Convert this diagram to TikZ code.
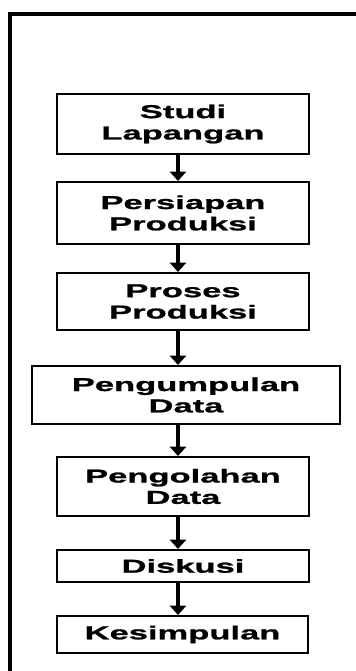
\documentclass[tikz,border=0pt]{standalone}
\usepackage{fontspec}
\setmainfont{Liberation Sans}[FakeStretch=1.85, BoldFeatures={FakeBold=1.2}]
\usetikzlibrary{arrows.meta}
\begin{document}
\begin{tikzpicture}[x=0.75pt,y=-0.75pt,
	tahap/.style={draw, line width=1.5pt, minimum width=189pt, align=center, inner sep=0pt,
		font=\fontsize{14}{16}\selectfont\bfseries},
	panah/.style={-{Triangle[width=12pt,length=7pt]}, line width=2.4pt}]
	\useasboundingbox (0,0) rectangle (356,671);
	\clip (0,0) rectangle (356,671);
	% frame
	\draw[line width=3pt] (10,690) -- (10,14) -- (380,14);
	% tahapan
	\node[tahap, minimum height=45pt] (studi) at (183,124) {Studi\\Lapangan};
	\node[tahap, minimum height=46.5pt] (persiapan) at (183,213) {Persiapan\\Produksi};
	\node[tahap, minimum height=42.75pt] (proses) at (183,301.5) {Proses\\Produksi};
	\node[tahap, minimum height=43.5pt, minimum width=231pt] (kumpul) at (186,395) {Pengumpulan\\Data};
	\node[tahap, minimum height=44.25pt] (olah) at (183,486.5) {Pengolahan\\Data};
	\node[tahap, minimum height=24pt] (diskusi) at (183,566) {Diskusi};
	\node[tahap, minimum height=27.75pt, minimum width=188pt] (simpul) at (182.5,634.5) {Kesimpulan};
	% panah
	\coordinate (jalur) at (178,0);
	\draw[panah] (studi.south -| jalur) -- (persiapan.north -| jalur);
	\draw[panah] (persiapan.south -| jalur) -- (proses.north -| jalur);
	\draw[panah] (proses.south -| jalur) -- (kumpul.north -| jalur);
	\draw[panah] (kumpul.south -| jalur) -- (olah.north -| jalur);
	\draw[panah] (olah.south -| jalur) -- (diskusi.north -| jalur);
	\draw[panah] (diskusi.south -| jalur) -- (simpul.north -| jalur);
\end{tikzpicture}
\end{document}
